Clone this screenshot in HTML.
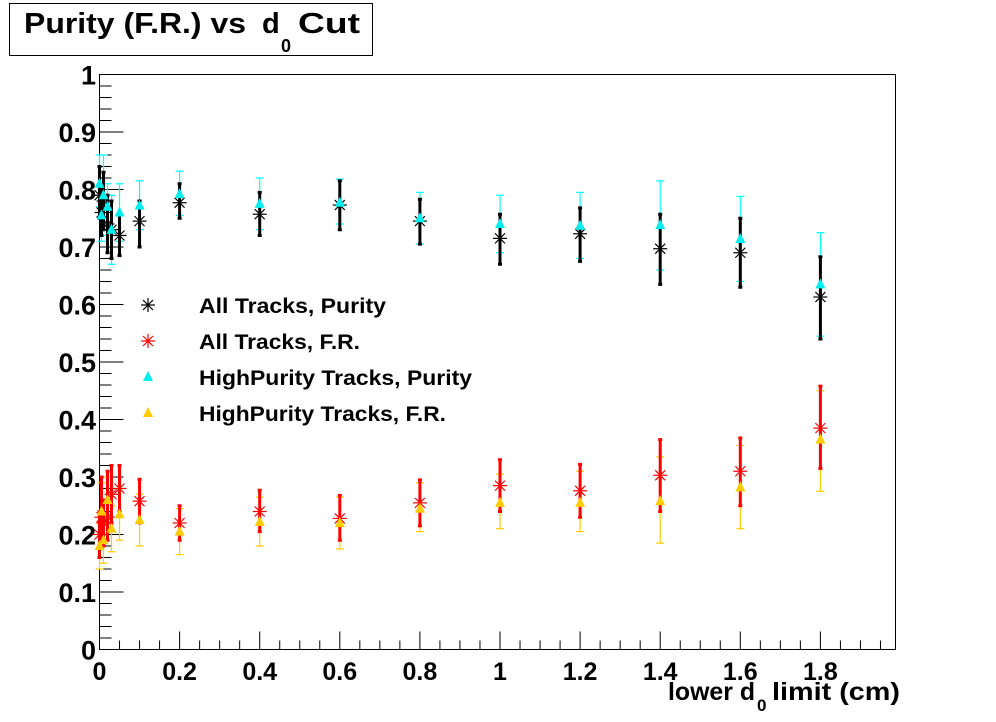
<!DOCTYPE html>
<html><head><meta charset="utf-8"><style>
body{margin:0;background:#fff;}
svg{display:block;font-family:"Liberation Sans",sans-serif;font-weight:bold;}
</style></head><body>
<svg id="s" width="996" height="722" xmlns="http://www.w3.org/2000/svg">
<rect x="0" y="0" width="996" height="722" fill="#fff"/>
<rect x="9.5" y="3.5" width="363" height="52" fill="#fff" stroke="#000"/>
<text x="24" y="33" font-size="29" textLength="222" lengthAdjust="spacingAndGlyphs">Purity (F.R.) vs</text>
<text x="262" y="33" font-size="29">d</text>
<text x="281" y="52" font-size="18">0</text>
<text x="298" y="33" font-size="29" textLength="62" lengthAdjust="spacingAndGlyphs">Cut</text>
<rect x="99.5" y="74.5" width="796" height="575" fill="none" stroke="#000"/>
<text x="668" y="700" font-size="25" textLength="87" lengthAdjust="spacingAndGlyphs">lower d</text>
<text x="757" y="711" font-size="17">0</text>
<text x="772" y="700" font-size="25" textLength="128" lengthAdjust="spacingAndGlyphs">limit (cm)</text>
<g id="g"></g>
</svg>
<script>
const g=document.getElementById('g');let h='';
const X=v=>99.5+v*400.5, Y=v=>649.5-v*575;
for(let i=0;i<=39;i++){const v=i*0.05;const x=X(v);if(x>895)break;const L=i%4==0?18:9;h+=`<line x1="${x}" y1="649.5" x2="${x}" y2="${649.5-L}" stroke="#000"/>`;}
for(let i=0;i<=9;i++){h+=`<text x="${X(i*0.2)}" y="680" font-size="25" text-anchor="middle">${i==0?'0':(i*0.2).toFixed(1).replace(/\.0$/,'')}</text>`;}
for(let i=0;i<=50;i++){const v=i*0.02;const L=i%5==0?24:12;h+=`<line x1="99.5" y1="${Y(v)}" x2="${99.5+L}" y2="${Y(v)}" stroke="#000"/>`;}
for(let i=0;i<=10;i++){const t=i==0?'0':i==10?'1':(i/10).toFixed(1);h+=`<text x="96" y="${Y(i/10)+10}" font-size="27" text-anchor="end">${t}</text>`;}
const xs=[0,0.005,0.01,0.02,0.03,0.05,0.1,0.2,0.4,0.6,0.8,1.0,1.2,1.4,1.6,1.8];
const S={
bk:[[.79,.75,.84],[.76,.72,.80],[.78,.73,.83],[.74,.69,.79],[.73,.68,.78],[.72,.685,.76],[.745,.70,.78],[.777,.75,.81],[.757,.72,.795],[.773,.73,.815],[.745,.705,.783],[.715,.67,.757],[.723,.675,.768],[.697,.635,.757],[.69,.63,.75],[.613,.54,.683]],
cy:[[.81,.77,.86],[.755,.71,.80],[.79,.75,.86],[.77,.72,.81],[.73,.67,.79],[.76,.71,.81],[.772,.73,.815],[.792,.755,.832],[.775,.73,.82],[.777,.74,.818],[.75,.705,.795],[.74,.69,.79],[.737,.68,.795],[.738,.66,.815],[.714,.64,.788],[.635,.545,.725]],
rd:[[.20,.16,.24],[.23,.19,.30],[.22,.18,.26],[.23,.19,.31],[.27,.22,.32],[.28,.24,.32],[.258,.22,.296],[.22,.19,.25],[.24,.205,.277],[.228,.19,.268],[.255,.215,.295],[.285,.24,.33],[.276,.23,.322],[.303,.24,.365],[.31,.25,.368],[.385,.315,.458]],
yl:[[.18,.14,.22],[.24,.20,.29],[.19,.15,.23],[.26,.21,.30],[.21,.17,.25],[.235,.19,.28],[.225,.18,.27],[.205,.165,.245],[.222,.18,.265],[.22,.175,.265],[.245,.205,.29],[.255,.21,.305],[.255,.205,.31],[.258,.185,.335],[.282,.21,.355],[.365,.275,.45]]};
const star=(x,y,c)=>`<g stroke="${c}" stroke-width="1.2"><line x1="${x-7}" y1="${y}" x2="${x+7}" y2="${y}"/><line x1="${x}" y1="${y-7}" x2="${x}" y2="${y+7}"/><line x1="${x-5}" y1="${y-5}" x2="${x+5}" y2="${y+5}"/><line x1="${x-5}" y1="${y+5}" x2="${x+5}" y2="${y-5}"/></g>`;
const tri=(x,y,c)=>`<polygon points="${x},${y-6} ${x-5},${y+4} ${x+5},${y+4}" fill="${c}"/>`;
function err(k,c,w,cap){S[k].forEach((d,i)=>{const x=X(xs[i]);h+=`<line x1="${x}" y1="${Y(d[1])}" x2="${x}" y2="${Y(d[2])}" stroke="${c}" stroke-width="${w}"/><line x1="${x-cap}" y1="${Y(d[1])}" x2="${x+cap}" y2="${Y(d[1])}" stroke="${c}" stroke-width="${w}"/><line x1="${x-cap}" y1="${Y(d[2])}" x2="${x+cap}" y2="${Y(d[2])}" stroke="${c}" stroke-width="${w}"/>`;});}
err('cy','#0ff',1.2,4);err('yl','#fc0',1.2,4);err('bk','#000',3,2);err('rd','#f00',3,2);
S.bk.forEach((d,i)=>h+=star(X(xs[i]),Y(d[0]),'#000'));
S.rd.forEach((d,i)=>h+=star(X(xs[i]),Y(d[0]),'#f00'));
S.cy.forEach((d,i)=>h+=tri(X(xs[i]),Y(d[0]),'#0ee'));
S.yl.forEach((d,i)=>h+=tri(X(xs[i]),Y(d[0]),'#fc0'));
const lg=[['All Tracks, Purity','bk',187],['All Tracks, F.R.','rd',161],['HighPurity Tracks, Purity','cy',273],['HighPurity Tracks, F.R.','yl',247]];
lg.forEach((l,i)=>{const y=305+i*36;h+=l[1]=='bk'?star(148,y,'#000'):l[1]=='rd'?star(148,y,'#f00'):tri(148,y,l[1]=='cy'?'#0ee':'#fc0');h+=`<text x="199" y="${y+8}" font-size="21" textLength="${l[2]}" lengthAdjust="spacingAndGlyphs">${l[0]}</text>`;});
g.innerHTML=h;
</script>
</body></html>
